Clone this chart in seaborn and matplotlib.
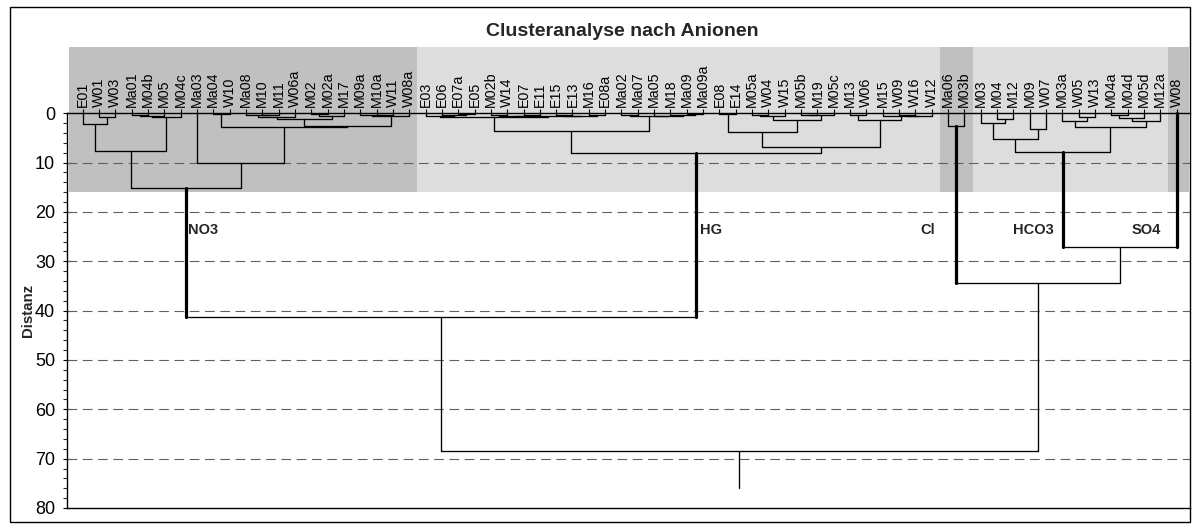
import matplotlib
matplotlib.use("Agg")
import matplotlib.pyplot as plt
from matplotlib.patches import Rectangle
import pandas as pd
import seaborn as sns

# ---------------------------------------------------------------- data
leaves = [
    "E01", "W01", "W03", "Ma01", "M04b", "M05", "M04c", "Ma03", "Ma04", "W10",
    "Ma08", "M10", "M11", "W06a", "M02", "M02a", "M17", "M09a", "M10a", "W11",
    "W08a",
    "E03", "E06", "E07a", "E05", "M02b", "W14", "E07", "E11", "E15", "E13",
    "M16", "E08a", "Ma02", "Ma07", "Ma05", "M18", "Ma09", "Ma09a", "E08", "E14",
    "M05a", "W04", "W15", "M05b", "M19", "M05c", "M13", "W06", "M15", "W09",
    "W16", "W12",
    "Ma06", "M03b",
    "M03", "M04", "M12", "M09", "W07", "M03a", "W05", "W13", "M04a", "M04d",
    "M05d", "M12a",
    "W08",
]

# linkage: (new cluster, left child, right child, distance)
merges_no3 = [
    ("n1", "W01", "W03", 0.75), ("n2", "E01", "n1", 2.1),
    ("n3", "Ma01", "M04b", 0.3), ("n4", "n3", "M05", 0.5),
    ("n5", "n4", "M04c", 0.75), ("n6", "n2", "n5", 7.7),
    ("n7", "Ma04", "W10", 0.25), ("n8", "M10", "M11", 0.3),
    ("n9", "Ma08", "n8", 0.45), ("n10", "n9", "W06a", 0.75),
    ("n11", "M02", "M02a", 0.25), ("n12", "n11", "M17", 0.5),
    ("n13", "n10", "n12", 1.2), ("n14", "M10a", "W11", 0.3),
    ("n15", "M09a", "n14", 0.45), ("n16", "n15", "W08a", 0.55),
    ("n17", "n13", "n16", 2.6), ("n18", "n7", "n17", 2.85),
    ("n19", "Ma03", "n18", 10.0), ("n20", "n6", "n19", 15.25),
]
merges_hg = [
    ("h1", "E07a", "E05", 0.25), ("h2", "E06", "h1", 0.4),
    ("h3", "E03", "h2", 0.55), ("h4", "M02b", "W14", 0.45),
    ("h5", "E07", "E11", 0.3), ("h6", "h4", "h5", 0.55),
    ("h7", "E15", "E13", 0.3), ("h8", "M16", "E08a", 0.35),
    ("h9", "h7", "h8", 0.5), ("h10", "h6", "h9", 0.6),
    ("h11", "h3", "h10", 0.75), ("h12", "Ma02", "Ma07", 0.3),
    ("h13", "Ma09", "Ma09a", 0.25), ("h14", "M18", "h13", 0.45),
    ("h15", "Ma05", "h14", 0.55), ("h16", "h12", "h15", 0.65),
    ("h17", "h11", "h16", 3.6), ("h18", "E08", "E14", 0.25),
    ("h19", "M05a", "W04", 0.3), ("h20", "h19", "W15", 0.5),
    ("h21", "M05b", "M19", 0.3), ("h22", "h21", "M05c", 0.45),
    ("h23", "h20", "h22", 1.3), ("h24", "h18", "h23", 3.85),
    ("h25", "M13", "W06", 0.4), ("h26", "W09", "W16", 0.35),
    ("h27", "h26", "W12", 0.5), ("h28", "M15", "h27", 0.6),
    ("h29", "h25", "h28", 1.35), ("h30", "h24", "h29", 6.8),
    ("h31", "h17", "h30", 8.1),
]
merges_cl = [("c1", "Ma06", "M03b", 2.6)]
merges_hco3 = [
    ("k1", "M04", "M12", 1.1), ("k2", "M03", "k1", 1.9),
    ("k3", "M09", "W07", 3.1), ("k4", "k2", "k3", 5.3),
    ("k5", "W05", "W13", 0.7), ("k6", "M03a", "k5", 1.55),
    ("k7", "M04a", "M04d", 0.3), ("k8", "k7", "M05d", 1.0),
    ("k9", "k8", "M12a", 1.5), ("k10", "k6", "k9", 2.7),
    ("k11", "k4", "k10", 7.8),
]
merges_top = [
    ("s1", "k11", "W08", 27.2),
    ("t1", "c1", "s1", 34.4),
    ("g1", "n20", "h31", 41.3),
    ("root", "g1", "t1", 68.5),
]
root_stem_end = 76.0

groups = ["NO3", "HG", "Cl", "HCO3", "SO4"]
group_sizes = [21, 32, 2, 12, 1]
group_roots = ["n20", "h31", "c1", "k11", "W08"]
group_dark = [True, False, True, False, True]

title = "Clusteranalyse nach Anionen"
y_label = "Distanz"
y_ticks = list(range(0, 81, 10))

# ------------------------------------------------------- dendrogram geometry
merges = merges_no3 + merges_hg + merges_cl + merges_hco3 + merges_top
xpos = {name: float(i) for i, name in enumerate(leaves)}
height = {name: 0.0 for name in leaves}
rows = []
seg = 0


def add_segment(x0, y0, x1, y1, weight):
    global seg
    rows.append({"seg": seg, "x": x0, "y": y0, "weight": weight})
    rows.append({"seg": seg, "x": x1, "y": y1, "weight": weight})
    seg += 1


for name, a, b, h in merges:
    xa, xb = xpos[a], xpos[b]
    xpos[name] = (xa + xb) / 2.0
    height[name] = h
    add_segment(xa, height[a], xa, h, "thick" if a in group_roots else "thin")
    add_segment(xa, h, xb, h, "thin")
    add_segment(xb, height[b], xb, h, "thick" if b in group_roots else "thin")

add_segment(xpos["root"], height["root"], xpos["root"], root_stem_end, "thin")
lines = pd.DataFrame(rows)

# ------------------------------------------------------------- figure
sns.set_theme(style="white")
plt.rcParams["font.family"] = ["Liberation Sans", "DejaVu Sans"]
plt.rcParams["lines.scale_dashes"] = False

W, H = 1196, 528
fig = plt.figure(figsize=(W / 100, H / 100), dpi=100)
ax = fig.add_axes([67 / W, 1 - 508 / H, (1190 - 67) / W, (508 - 47) / H])

x_left, x_right = -0.96, 67.82
y_top, y_bottom = -13.42, 80.0
shade_bottom = 16.0

# shaded cluster bands
bounds = [x_left + 0.12]
acc = 0
for n in group_sizes[:-1]:
    acc += n
    bounds.append(acc - 0.5)
bounds.append(x_right - 0.07)
for i, dark in enumerate(group_dark):
    ax.add_patch(Rectangle((bounds[i], y_top), bounds[i + 1] - bounds[i],
                           shade_bottom - y_top,
                           facecolor="#c0c0c0" if dark else "#dddddd",
                           edgecolor="none", zorder=0))

# dashed distance grid
for v in y_ticks[1:-1]:
    ax.axhline(v, color="#606060", lw=0.8, dashes=(7, 4), zorder=1.5)

sns.lineplot(data=lines, x="x", y="y", units="seg", estimator=None,
             sort=False, size="weight", sizes={"thin": 0.95, "thick": 2.3},
             color="black", legend=False, ax=ax, zorder=3)

# cluster names
label_x = [6.45, 37.8, 51.3, 56.95, 64.25]
for name, lx in zip(groups, label_x):
    ax.text(lx, 23.6, name, fontsize=10.5, fontweight="bold",
            ha="left", va="center", zorder=4)

ax.set_xlim(x_left, x_right)
ax.set_ylim(y_bottom, y_top)

# category axis along distance 0, names on top
ax.spines["top"].set_position(("data", 0))
ax.spines["top"].set_linewidth(1.0)
ax.spines["top"].set_color("black")
ax.spines["right"].set_visible(False)
ax.spines["bottom"].set_color("black")
ax.spines["bottom"].set_linewidth(1.0)
ax.spines["left"].set_color("black")
ax.spines["left"].set_linewidth(1.0)
ax.spines["left"].set_bounds(0, 80)

ax.xaxis.set_ticks_position("top")
ax.set_xticks(range(len(leaves)))
ax.set_xticklabels(leaves, rotation=90)
ax.tick_params(axis="x", which="major", direction="out", length=3.2,
               width=0.8, pad=1.2, labelsize=10.3, colors="black",
               top=True, bottom=False)
ax.set_xlabel("")

ax.set_yticks(y_ticks)
ax.set_yticks(range(0, 81, 2), minor=True)
ax.tick_params(axis="y", which="major", direction="inout", length=6,
               width=0.8, labelsize=13, pad=5.5, colors="black", left=True)
ax.tick_params(axis="y", which="minor", direction="out", length=3,
               width=0.8, left=True)
ax.set_ylabel(y_label, fontsize=10.8, fontweight="bold")
ax.yaxis.set_label_coords(-0.0285, 1 - (40 - y_top) / (y_bottom - y_top))

fig.text(622 / W, 1 - 31 / H, title, fontsize=14, fontweight="bold",
         ha="center", va="center")

# outer frame
fig.patches.append(Rectangle((9.5 / W, 1 - 521.5 / H), (1190 - 9.5) / W,
                             (521.5 - 6.5) / H, transform=fig.transFigure,
                             fill=False, edgecolor="black", lw=1.0))

fig.savefig("out.png", dpi=100)
